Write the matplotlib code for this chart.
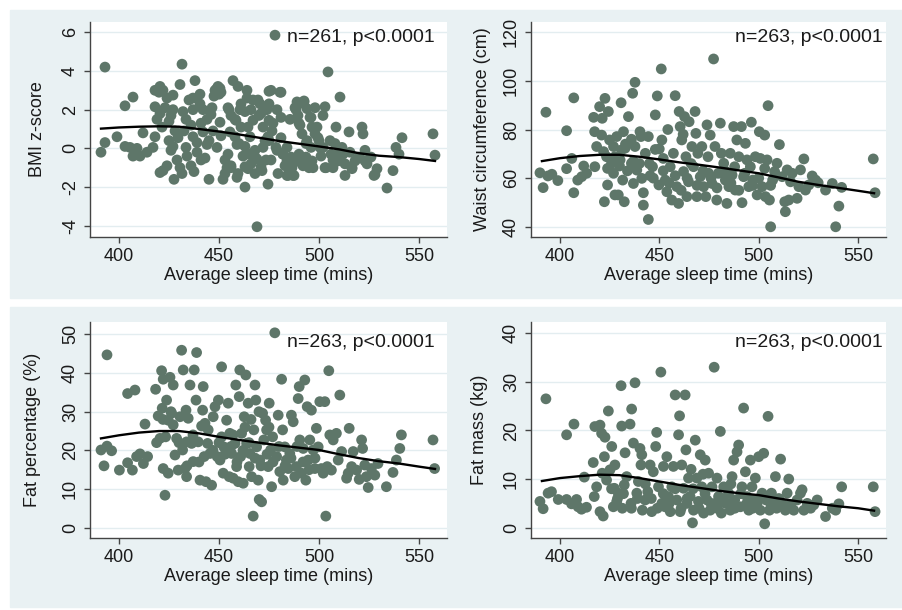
import matplotlib
matplotlib.use("Agg")
import matplotlib.pyplot as plt
from matplotlib.patches import Rectangle

plt.rcParams['font.family'] = ['Liberation Sans', 'DejaVu Sans']
plt.rcParams['axes.unicode_minus'] = False

# ---- data (sleep minutes, outcome) ----
bmi_pts = [(391,-0.2),(393,0.3),(393,4.2),(399,0.6),(403,2.2),(407,2.65),(403,0.1),(405.5,0.05),(407,-0.4),(409,0),
    (410.5,-0.4),(412,0.8),(414,-0.2),(417,0.05),(418,2.15),(418,3.0),(418,0.6),(420,2.9),(420.5,3.2),(422,3.0),
    (419,1.5),(420.5,1.8),(421.5,1.1),(420.5,-1.25),(422,-1.15),(424,-0.9),(423,2.1),(424,2.6),(426,1.7),(427,2.0),
    (427,2.75),(426,-0.1),(427,0.1),(427.5,-1.6),(429.5,0.55),(430.5,3.3),(431.5,4.35),(430.5,-1.0),(431.5,-1.3),(433.5,1.5),
    (432.5,0.9),(433.5,0.05),(435,2.5),(437,2.6),(437,2.0),(438,3.5),(437,0.6),(437.5,-1.2),(439,-0.2),(440.5,2.8),
    (440.5,2.3),(441,1.3),(442,0.85),(443,-0.5),(444,0.2),(445,-1.6),(446,1.75),(446.5,2.1),(447.5,2.7),(448,3.0),
    (449,3.1),(450,2.8),(450.5,3.1),(450.5,1.35),(449,0.05),(451,0.65),(452,-1.6),(453,-1.3),(454,-1.0),(455,2.0),
    (455.5,0.85),(456,-0.9),(457,3.5),(458,1.5),(459,0.2),(459,-1.5),(459.5,3.2),(460.5,2.0),(461,1.1),(462,-0.4),
    (463,-2.0),(464,2.6),(464,3.0),(464.5,-1.05),(465.5,0.6),(466,2.0),(467,2.5),(468,-0.1),(469,-0.55),(469,-4.05),
    (470,1.7),(470.5,2.3),(471.5,-1.15),(472,1.1),(473,0.4),(474,2.0),(474.5,-1.85),(475,2.95),(476,-0.6),(477,1.3),
    (478,5.85),(479,-0.1),(479.5,-1.3),(480.5,2.9),(481,0.55),(482,-0.3),(483,-0.9),(484,0.05),(484.5,-1.4),(485.5,1.5),
    (486,-0.45),(487,-1.4),(488,2.1),(489,2.4),(489.5,1.7),(490.5,1.2),(491,-0.45),(492,-0.9),(492.5,2.45),(494,0.4),
    (494.5,-0.7),(495.5,1.6),(496,0.05),(497,-1.0),(498,2.1),(499,1.1),(499.5,0.55),(500.5,0.05),(501,-0.4),(502,1.7),
    (503,2.15),(503.5,-1.0),(504.5,3.95),(505.5,0.4),(506,-0.3),(507,-1.0),(508,0.25),(508.5,1.1),(509.5,-0.65),(510.5,2.65),
    (511.5,0.05),(512,-0.3),(513,-1.4),(515,0.85),(515.5,-0.2),(516.5,-1.05),(518,-0.65),(520,-0.45),(521.5,1.1),(522,0.75),
    (523,-0.1),(524,-0.8),(526,-0.45),(527.5,-1.4),(529,-1.05),(534,-2.05),(537,-1.15),(538.5,0.05),(540,-0.3),(541.5,0.55),
    (557,0.75),(558,-0.35),
    (449.5,3.2),(451,2.9),(454.5,2.1),(456,1.7),(458.5,1.45),(461,2.3),(463,1.9),(464.5,1.1),(467,1.45),(469.5,2.5),
    (471,1.8),(473,2.15),(458,0.6),(460,0.25),(463,0.1),(465,-0.3),(468,-0.45),(454.5,-0.3),(453,-0.6),(456,-1.0),
    (459.5,-1.3),(463,-0.95),(466,-0.8),(468,-1.3),(471,-0.95),(473.5,-0.6),(472,0.05),(474.5,0.6),(475,2.3),(476,3.0),
    (481,2.9),(481,1.6),(479,2.0),(475,1.45),(476.5,0.9),(475,0.4),(478.5,0.05),(482,-0.3),(484,-0.65),(486.5,-1.0),
    (488.5,-0.65),(490,-0.3),(491.5,-0.8),(493.5,-0.45),(495,-1.0),(496.5,-0.65),(488.5,2.0),(490,2.3),(492.5,2.4),(494,2.05),
    (496,1.6),(496.5,1.1),(498,0.75),(500,0.4),(502,0.05),(490,1.3),(491.5,0.75),(493.5,0.25),(484,-1.4),(487.5,-1.4),
    (503,-1.0),(507,-0.6),(510,-0.2),(513,-0.8),(516.5,-1.0),(520,-0.5),(523,-0.65),(528,-1.35),
    (425,1.4),(428,0.9),(432,1.9),(436,1.2),(439,0.3),(441,-0.6),(444,1.5),(447,0.9),(445,0.4),(442,2.0),
    (434,-0.4),(436,-0.9),(429,-0.6),(425,0.4)]

waist_pts = [(390,62.2),(391.6,56.1),(393,87.1),(394,60.9),(396,61.6),(399,59),(403.4,79.5),(403.4,63.9),(406,68.1),(407,93),
    (407,54),(409,59.2),(411,60.6),(412,65),(413.5,62),(417,85),(417.5,79.1),(417.6,64.7),(418.5,73),(420,89.4),
    (421,77.7),(421.3,84.6),(422,70.9),(422.4,50.3),(422.7,92.8),(423.5,68.8),(424.4,87.4),(424,57.2),(425,75.7),(426,66.1),
    (427,73),(427.7,68.8),(427.7,53.1),(428.6,77.1),(429.4,53.1),(430.3,67.5),(430.8,91),(431,71.6),(431.6,59.2),(432,79.1),
    (432.4,50.3),(432.8,72.3),(434.5,85.3),(436,66.1),(436.6,94.9),(437,57.8),(437.8,99.4),(437.8,73),(438.7,63.3),(440.3,79.1),
    (440.8,77.1),(441.2,59.9),(442,54),(442,48.9),(443,70.2),(444.5,77.1),(444.5,43),(445.4,61),(446.6,64.7),(448,86),
    (448,71.8),(449,93.8),(449.8,57.2),(451,104.9),(451.3,75.7),(452,68.1),(453,59.2),(453.8,54.4),(454.3,80),(455.5,64.7),
    (456.3,51),(457.1,70.2),(458,93.9),(458.8,56.5),(459.7,49.6),(460,87.4),(460.5,81.2),(461.3,75.7),(462.2,62.7),(462.7,85.3),
    (463.4,68.8),(463.9,52.4),(464.7,58.5),(465,83.2),(466.4,73),(467.2,64.7),(468,87.4),(468.4,78.4),(468.9,52.4),(469.4,70.2),
    (470.6,60.6),(471.4,73),(472.3,56.5),(473.4,52.4),(474,81.9),(474.5,68.8),(474.8,62),(475.6,77.7),(476.5,57.8),(477.3,109),
    (478,73),(478.9,51),(479.7,62),(480.7,82.6),(481.2,70.2),(482.4,66.1),(483.2,59.2),(484,49.6),(485,56.5),(485.7,70.2),
    (486.6,61.3),(487.4,81.2),(487.9,64.7),(488.2,55.1),(489,75.7),(490,68.8),(491.3,81.2),(491.6,49.9),(492.4,60.6),(493.3,74.3),
    (494.1,67.5),(495,56.5),(495.8,64.7),(496.3,83),(497,59.2),(498.3,68.8),(499.2,53.1),(500.3,79.1),(500.8,68.1),(501.7,56.5),
    (503,77.7),(503.4,52.4),(504.2,67.5),(504.7,89.8),(505.4,51),(506,40),(507,59.2),(508,62.7),(509.2,66.1),(510.4,73.8),
    (511.8,60.6),(513.1,50.3),(513.4,46.2),(514.3,63.4),(515.1,51),(516,58.5),(516.8,62),(519.3,51.7),(520.2,56.5),(521,63.4),
    (522.7,67.9),(523.5,55.1),(525.2,57.2),(526.9,60.9),(528.6,59.2),(529.9,58.1),(533.6,55.1),(537,57.8),(538.7,40),(540.3,48.5),
    (541.7,56.2),(557.6,67.9),(558.5,54),
    (445,66),(447,60),(452,63),(455,58),(458,61),(461,55),(464,60),(466,66),(469,57),(472,63),
    (476,60),(479,56),(483,63),(486,58),(490,55),(493,62),(497,57),(500,60),(503,64),(506,57),
    (430,65),(434,63),(437,67),(440,66),(424,64),(427,62),(433,74),(436,76),(450,72),(462,78)]

fatpct_pts = [(391,20.1),(392.5,16),(394,44.7),(394,21.1),(396.3,19.9),(400.2,14.9),(404.3,34.7),(404.3,16.8),(406.7,14.9),(408,35.6),
    (408.8,18.4),(410.5,19.1),(412.2,16.6),(413,26.8),(414.3,18.4),(418.3,35.8),(418.8,22),(419.6,28.9),(420.5,23.1),(421.3,40.6),
    (421.6,30.9),(422.1,15.3),(423,8.4),(422.1,38.4),(423.3,23.5),(423.8,33),(424.6,27.8),(424.6,14.1),(425.5,38.9),(426.3,29.6),
    (427.1,26.6),(427.1,36.9),(428,18.8),(428.8,23.1),(429.6,14.9),(430.5,28.7),(431.3,45.9),(431.8,20.1),(432.1,40.8),(433,15.3),
    (433.5,30.4),(433.8,22.2),(433.8,13.2),(434.6,28.3),(435.5,36.9),(436.3,21.8),(437.1,17.1),(437.6,40.8),(438.5,33),(438.8,45.3),
    (439.6,22.2),(440.5,12.3),(441.3,26.3),(441.8,30.4),(442.1,36.5),(442.6,18.4),(443.5,11.9),(444.3,21.8),(444.6,25.3),(445.5,19.2),
    (446.3,11),(447.1,28.7),(448,31.3),(449.1,18.4),(449.7,33),(450.5,17.5),(451.3,41.6),(451.3,23.5),(452.1,14.1),(452.4,20.9),
    (453.8,27.8),(454.6,32.2),(455.1,13.2),(455.4,24.4),(456.3,19.2),(457.1,12.8),(458,21.8),(458.4,36.9),(458.8,15.8),(459.6,11.9),
    (460.1,33.9),(460.4,40.8),(460.8,18.4),(461.3,24.4),(462.1,11.5),(462.6,28.7),(463.4,39.5),(463.8,21.8),(464.6,32.2),(465.1,15.8),
    (465.4,19.2),(466.3,13.2),(467.1,3),(467.4,25.3),(468,36.9),(468.4,33),(468.8,20.9),(469.6,12.3),(470.1,7.3),(470.4,17.5),
    (471.3,6.7),(471.8,29.6),(472.4,22.7),(473.3,27.8),(473.8,25.3),(474.6,15.8),(475.1,32.2),(475.8,20.1),(476.3,10.6),(476.8,23.5),
    (477.9,50.4),(478.8,18.4),(479.6,29.1),(480.4,14.5),(481.3,38.4),(481.8,25.3),(482.1,12.3),(482.9,20.9),(483.7,17.5),(484.6,15.3),
    (485.4,19.2),(486.2,29.1),(487.1,27.4),(487.9,13.2),(488.7,15.8),(489.6,33.4),(490.1,36.5),(490.4,22.7),(491.2,14.1),(492.1,20.5),
    (492.9,38.2),(493.4,12.3),(494.1,31.3),(494.6,17.5),(495.4,22.7),(496.2,30.4),(497.1,20.1),(497.9,15.3),(498.7,25.7),(499.6,20.9),
    (500.4,32.6),(501.2,15.3),(502.1,14.1),(502.9,32.6),(503.4,3),(504.1,15.8),(504.9,40.6),(505.4,24),(506.2,14.9),(507.1,22.7),
    (508.7,24.4),(509.6,17.5),(510.4,34.3),(511.3,19.7),(513.8,12.8),(514.6,14.1),(515.1,25.7),(516.3,15.8),(517.1,19.7),(518.8,14.9),
    (520.1,12.5),(521.3,22.7),(521.8,20.5),(522.9,16.2),(523.7,13.2),(524.6,10.4),(526.2,15.3),(527.9,13.6),(529.5,16.6),(533.7,10.6),
    (537,14.3),(538.7,17.5),(540.4,20.5),(541.2,24),(557,22.7),(557.8,15.3),
    (447,20),(450,22),(453,19),(456,21),(459,17),(462,20),(465,22),(468,18),(471,16),(474,19),
    (477,17),(480,21),(483,16),(486,18),(489,21),(492,17),(495,15),(498,18),(457,24),(463,26),
    (466,28),(475,26),(470,30),(443,27),(437,24),(430,22),(426,30),(422,28),(434,16),(440,17)]

fatmass_pts = [(390,5.4),(391.6,3.9),(393,26.5),(394.1,7.1),(395.8,7.4),(399.2,5.8),(403.4,19.1),(403.4,5.8),(405.9,4.9),(407.1,21.3),
    (408.4,5.8),(409.2,4.3),(410.9,3.8),(412.3,10.4),(413.4,4.2),(416.8,13.4),(417.3,6.4),(417.6,20.8),(418.5,8.4),(420.2,21.1),
    (420.2,3.3),(421,19.4),(421.3,11.2),(421.8,2.4),(422.4,14.6),(422.7,18.6),(423.5,9.8),(424.4,24),(425.2,11.9),(426.1,16.7),
    (426.9,4.3),(427.4,8.1),(427.7,12.9),(428.6,5.4),(429.4,7.1),(430.8,29.2),(431.1,20.9),(431.4,4),(432.4,8.8),(432.8,15.4),
    (433.6,10.5),(435.3,21.3),(435.8,5),(436.1,24.4),(437,17.4),(437.8,29.8),(438.7,7.1),(439.5,9.5),(440.3,16.3),(440.8,12.9),
    (441.2,15),(441.5,3.6),(442.9,5.7),(444.2,7.4),(445.4,12.9),(446.2,3.3),(447,11.5),(448.2,16.7),(448.7,19.6),(449.6,8.4),
    (450.8,32),(451.3,5),(452.1,12.6),(452.9,4.3),(453.8,14.6),(454.6,6.4),(455.5,3.3),(456.3,8.4),(457.1,12.6),(458,27.3),
    (458.8,5.7),(459.7,19.1),(460.2,23),(460.5,3.3),(461.3,12.9),(462.2,8.1),(463,27.3),(463.4,16),(463.9,5),(464.7,10.2),
    (465.5,6.4),(466.7,1),(467.2,3.6),(468.1,18),(468.9,10.2),(469.7,5.4),(470.6,15),(471.4,8.4),(472.3,3),(473.1,13.9),
    (474,5.7),(474.8,11.2),(475.6,3.6),(476.5,8.4),(477.6,33),(478.2,5),(479,10.2),(479.8,6.4),(480.7,19.8),(481.2,3),
    (482.4,8.4),(483.2,5),(484.9,7.1),(485.7,3.6),(486.6,10.5),(487.4,13.9),(487.9,5.7),(489.1,15.6),(489.9,17),(490.8,4.3),
    (491.6,8.4),(492.4,24.6),(493.3,11.5),(494.1,6.4),(495,3.6),(495.8,13.9),(496.6,8.4),(497.5,5.7),(498.3,10.2),(499.2,5),
    (500,14.6),(500.8,3.6),(501.7,7.1),(502.5,15.3),(503,0.8),(503.7,5.7),(504.7,22.9),(505.4,3.6),(506.4,7.1),(507.6,5),
    (508.4,10.5),(510.1,6),(511,14.1),(511.8,5),(513.4,3.6),(514.3,7.1),(515.1,10),(516,4.7),(517.6,3.6),(519.3,5.7),
    (521,7.1),(521.8,7.8),(522.7,3.6),(524.4,5),(526.1,4),(527.7,4.7),(529.4,5.7),(533.6,2.3),(537,4),(538.7,3.6),
    (540.3,4.9),(541.7,8.4),(557.6,8.4),(558.5,3.3),
    (443,9),(446,6),(449,4),(452,7),(455,5),(458,8),(461,4),(464,6),(467,8),(470,4),
    (473,7),(476,5),(479,4),(482,6),(485,5),(488,4),(491,7),(494,5),(497,4),(500,6),
    (506,5),(509,4),(426,8),(429,6),(432,7),(436,4),(439,6),(466,12),(472,11),(486,9)]

# smoothed fit curves, read at these sleep times
fit_sleep = [391, 400, 410, 420, 430, 440, 450, 460, 470, 480, 490, 500, 510, 520, 530, 540, 550, 558]
bmi_fit = [1.02, 1.08, 1.12, 1.14, 1.12, 1.0, 0.87, 0.72, 0.55, 0.38, 0.24, 0.10, -0.05, -0.25, -0.38, -0.45, -0.55, -0.65]
waist_fit = [67.0, 68.2, 69.1, 69.6, 69.6, 68.8, 67.7, 66.5, 65.5, 64.4, 63.2, 62.0, 60.3, 58.5, 57.2, 56.0, 54.8, 53.8]
fatpct_fit = [23.1, 23.9, 24.6, 25.0, 25.0, 24.4, 23.5, 22.7, 22.0, 21.3, 20.7, 20.1, 19.0, 18.0, 17.2, 16.6, 15.8, 15.2]
fatmass_fit = [9.6, 10.2, 10.6, 10.9, 10.8, 10.2, 9.5, 8.8, 8.2, 7.6, 7.1, 6.7, 6.0, 5.4, 4.9, 4.4, 4.0, 3.5]

panels = [
    ("BMI z-score", bmi_pts, bmi_fit, "n=261, p<0.0001", [-4, -2, 0, 2, 4, 6], (-4.58, 6.53)),
    ("Waist circumference (cm)", waist_pts, waist_fit, "n=263, p<0.0001", [40, 60, 80, 100, 120], (35.8, 124.2)),
    ("Fat percentage (%)", fatpct_pts, fatpct_fit, "n=263, p<0.0001", [0, 10, 20, 30, 40, 50], (-2.66, 53.2)),
    ("Fat mass (kg)", fatmass_pts, fatmass_fit, "n=263, p<0.0001", [0, 10, 20, 30, 40], (-2.12, 42.3)),
]

# axes boxes in pixels: left, top, right, bottom
boxes = [(90, 22, 447, 237), (531, 22, 886, 237), (90, 322, 447, 538), (531, 322, 886, 538)]
ylab_x = [-0.148, -0.138, -0.16, -0.144]
note_pos = [(0.966, 0.93), (0.99, 0.93), (0.966, 0.903), (0.99, 0.903)]

W, H = 903, 610
bg = '#e9f1f3'
dot = '#5e7669'

fig = plt.figure(figsize=(W / 100, H / 100), dpi=100, facecolor='white')
fig.patches.append(Rectangle((10 / W, 1 - 298 / H), 1 - 10 / W, 288 / H,
                             transform=fig.transFigure, color=bg, zorder=-10))
fig.patches.append(Rectangle((10 / W, 1 - 607 / H), 1 - 10 / W, 300 / H,
                             transform=fig.transFigure, color=bg, zorder=-10))

for i, (ylab, pts, fit, note, yt, ylim) in enumerate(panels):
    l, t, r, b = boxes[i]
    ax = fig.add_axes([l / W, 1 - b / H, (r - l) / W, (b - t) / H])
    ax.set_zorder(1)
    ax.set_facecolor('white')
    xs = [p[0] for p in pts]
    ys = [p[1] for p in pts]
    ax.scatter(xs, ys, s=60, color=dot, edgecolors='none', zorder=3)
    ax.plot(fit_sleep, fit, color='black', lw=1.7, zorder=4)

    ax.set_xlim(385.5, 564)
    ax.set_ylim(*ylim)
    ax.set_xticks([400, 450, 500, 550])
    ax.set_yticks(yt)
    for y in yt:
        ax.axhline(y, color='#e3edf0', lw=1.0, zorder=1)

    for s in ['top', 'right']:
        ax.spines[s].set_visible(False)
    for s in ['left', 'bottom']:
        ax.spines[s].set_color('#444444')
        ax.spines[s].set_linewidth(1.0)
    ax.tick_params(axis='both', length=4, width=1, color='#444444',
                   labelsize=13, labelcolor='#1a1a1a', pad=4)
    for lab in ax.get_yticklabels():
        lab.set_rotation(90)
        lab.set_va('center')

    ax.set_xlabel("Average sleep time (mins)", fontsize=13, color='#1a1a1a', va='center')
    ax.xaxis.set_label_coords(0.5, -0.177)
    ax.set_ylabel(ylab, fontsize=13, color='#1a1a1a', va='center')
    ax.yaxis.set_label_coords(ylab_x[i], 0.5)

    ax.text(note_pos[i][0], note_pos[i][1], note, transform=ax.transAxes,
            ha='right', va='center', fontsize=14, color='#1a1a1a', zorder=5)

fig.savefig("out.png", dpi=100, facecolor='white')
